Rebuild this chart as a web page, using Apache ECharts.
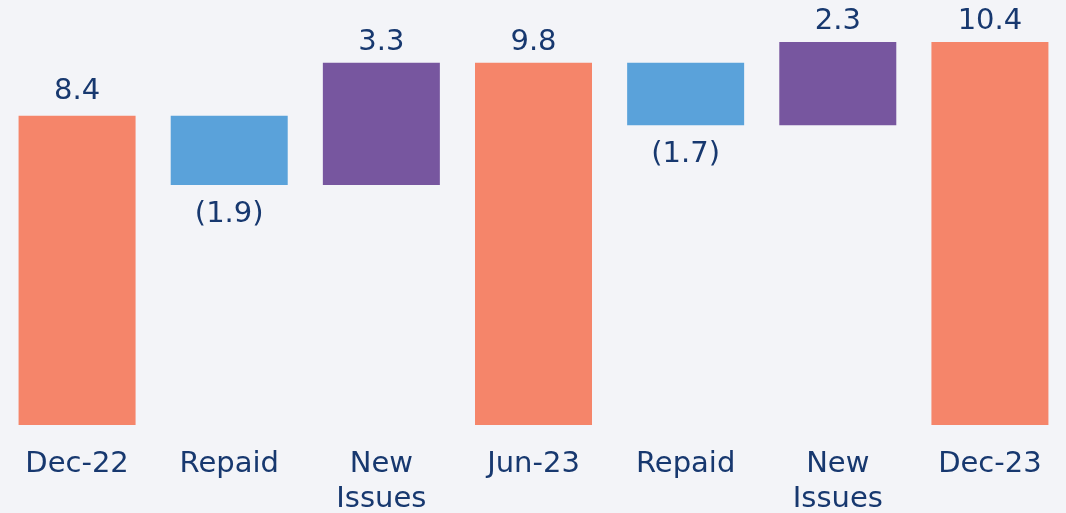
<!DOCTYPE html>
<html>
<head>
<meta charset="utf-8">
<script src="https://cdn.jsdelivr.net/npm/echarts@6/dist/echarts.min.js"></script>
<style>
html,body{margin:0;padding:0;background:#f3f4f8;}
#chart{width:1066px;height:513px;}
</style>
</head>
<body>
<div id="chart"></div>
<script>
const categories = ['Dec-22', 'Repaid', 'New\nIssues', 'Jun-23', 'Repaid', 'New\nIssues', 'Dec-23'];
const values = [8.4, -1.88, 3.32, 9.84, -1.70, 2.26, 10.4];
const kinds = ['total', 'repaid', 'new', 'total', 'repaid', 'new', 'total'];

const colors = { total: '#f5856a', repaid: '#5aa2da', new: '#77569f' };
const textColor = '#17386f';

// build waterfall base/height from the values
const base = [], height = [];
let cum = 0;
values.forEach((v, i) => {
  if (kinds[i] === 'total') { base.push(0); height.push(v); cum = v; }
  else if (v < 0) { cum += v; base.push(cum); height.push(-v); }
  else { base.push(cum); height.push(v); cum += v; }
});

const chart = echarts.init(document.getElementById('chart'));
chart.setOption({
  backgroundColor: '#f3f4f8',
  animation: false,
  grid: { left: 1, right: 0, top: 20, height: 405, containLabel: false, outerBoundsMode: 'none' },
  xAxis: {
    type: 'category',
    data: categories.map((c, i) => ({ value: c + '\u200b'.repeat(i) })),
    axisLine: { show: false },
    axisTick: { show: false },
    axisLabel: {
      interval: 0,
      margin: 22,
      color: textColor,
      fontFamily: 'DejaVu Sans',
      fontSize: 29,
      lineHeight: 35,
      formatter: v => v.replace(/\u200b/g, '')
    }
  },
  yAxis: {
    type: 'value', min: 0, max: 11,
    show: false, splitLine: { show: false }
  },
  series: [
    {
      type: 'bar', stack: 'w', barWidth: 117,
      itemStyle: { color: 'transparent' },
      data: base, silent: true
    },
    {
      type: 'bar', stack: 'w', barWidth: 117,
      data: height.map((h, i) => ({
        value: h,
        itemStyle: { color: colors[kinds[i]] },
        label: {
          show: true,
          position: values[i] < 0 ? 'bottom' : 'top',
          distance: values[i] < 0 ? 15 : (i === 0 ? 10 : 6),
          color: textColor,
          fontFamily: 'DejaVu Sans',
          fontSize: 29,
          formatter: () => values[i] < 0 ? '(' + (-values[i]).toFixed(1) + ')' : values[i].toFixed(1)
        }
      }))
    }
  ]
});
</script>
</body>
</html>
